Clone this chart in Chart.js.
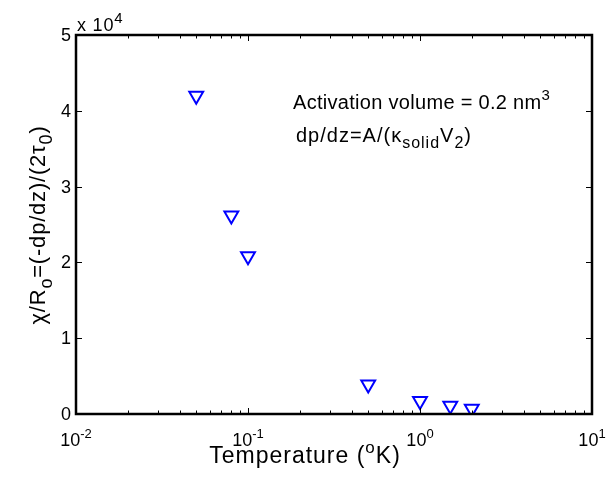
<!DOCTYPE html>
<html>
<head>
<meta charset="utf-8">
<script src="https://cdn.jsdelivr.net/npm/chart.js@4.4.0/dist/chart.umd.min.js"></script>
<style>
  html, body { margin: 0; padding: 0; background: #fff; }
  #wrap { width: 608px; height: 479px; }
</style>
</head>
<body>
<div id="wrap"><canvas id="chart"></canvas></div>
<script>
// data (y in units of 1e4)
const temperatures = [0.05, 0.08, 0.1, 0.5, 1.0, 1.5, 2.0];
const chiValues = [4.2, 2.62, 2.08, 0.39, 0.17, 0.11, 0.07];
const yScaleFactor = 1e4;
const xDecades = [-2, -1, 0, 1];
const yTicks = [0, 1, 2, 3, 4, 5];

const FONT = 'Arial, "Liberation Sans", sans-serif';

// draw text made of parts: {t, s: 'sup'|'sub'|undefined}
function drawRich(ctx, parts, x, y, size, align, opts) {
    opts = opts || {};
    const small = Math.round(size * (opts.ratio || 0.75));
    const spacing = (opts.spacing || 0) + 'px';
    let total = 0;
    ctx.letterSpacing = spacing;
    parts.forEach(p => {
        ctx.font = (p.s ? small : size) + 'px ' + FONT;
        p.w = ctx.measureText(p.t).width;
        total += p.w;
    });
    let cx = x;
    if (align === 'center') cx = x - total / 2;
    else if (align === 'right') cx = x - total;
    ctx.textAlign = 'left';
    ctx.textBaseline = 'alphabetic';
    parts.forEach(p => {
        ctx.font = (p.s ? small : size) + 'px ' + FONT;
        let dy = 0;
        if (p.s === 'sup') dy = -size * 0.45;
        if (p.s === 'sub') dy = size * 0.3;
        ctx.fillText(p.t, cx, y + dy);
        cx += p.w;
    });
    ctx.letterSpacing = '0px';
}

const matlabAxes = {
    id: 'matlabAxes',
    afterDraw(chart) {
        const ctx = chart.ctx;
        const a = chart.chartArea;
        const xs = chart.scales.x, ys = chart.scales.y;
        ctx.save();
        ctx.fillStyle = '#000';
        ctx.strokeStyle = '#000';

        // ticks (inward, on all four sides)
        ctx.lineWidth = 1;
        ctx.beginPath();
        xDecades.forEach((d, i) => {
            for (let m = 1; m <= 9; m++) {
                if (m > 1 && i === xDecades.length - 1) break;
                const px = Math.round(xs.getPixelForValue(m * Math.pow(10, d))) + 0.5;
                const len = m === 1 ? 6 : 3.5;
                ctx.moveTo(px, a.bottom); ctx.lineTo(px, a.bottom - len);
                ctx.moveTo(px, a.top); ctx.lineTo(px, a.top + len);
            }
        });
        yTicks.forEach(v => {
            const py = Math.round(ys.getPixelForValue(v * yScaleFactor)) + 0.5;
            ctx.moveTo(a.left, py); ctx.lineTo(a.left + 6, py);
            ctx.moveTo(a.right, py); ctx.lineTo(a.right - 6, py);
        });
        ctx.stroke();

        // frame
        ctx.lineWidth = 2.5;
        ctx.strokeRect(a.left, a.top, a.right - a.left, a.bottom - a.top);

        // tick labels
        xDecades.forEach(d => {
            const px = xs.getPixelForValue(Math.pow(10, d));
            drawRich(ctx, [{ t: '10' }, { t: String(d), s: 'sup' }], px, 446, 18, 'center', { ratio: 0.72 });
        });
        yTicks.forEach(v => {
            const py = ys.getPixelForValue(v * yScaleFactor);
            ctx.font = '18px ' + FONT;
            ctx.textAlign = 'right';
            ctx.textBaseline = 'middle';
            ctx.fillText(String(v), a.left - 5, py + 1);
        });
        drawRich(ctx, [{ t: 'x 10' }, { t: '4', s: 'sup' }], a.left + 1, 31, 18, 'left', { ratio: 0.85, spacing: 0.8 });

        // axis titles
        drawRich(ctx, [{ t: 'Temperature (' }, { t: 'o', s: 'sup' }, { t: 'K)' }], 305, 463, 23, 'center', { ratio: 0.72, spacing: 1 });
        ctx.save();
        ctx.translate(45, 225);
        ctx.rotate(-Math.PI / 2);
        drawRich(ctx, [
            { t: 'χ/R' }, { t: 'o', s: 'sub' }, { t: '=(-dp/dz)/(2τ' }, { t: '0', s: 'sub' }, { t: ')' }
        ], 0, 0, 22, 'center', { ratio: 0.8, spacing: 0.8 });
        ctx.restore();

        // annotations
        drawRich(ctx, [{ t: 'Activation volume = 0.2 nm' }, { t: '3', s: 'sup' }], 293, 109, 20, 'left', { ratio: 0.75, spacing: 0.3 });
        drawRich(ctx, [
            { t: 'dp/dz=A/(κ' }, { t: 'solid', s: 'sub' }, { t: 'V' }, { t: '2', s: 'sub' }, { t: ')' }
        ], 296, 142, 20, 'left', { ratio: 0.8, spacing: 1 });
        ctx.restore();
    }
};

new Chart(document.getElementById('chart'), {
    type: 'scatter',
    data: {
        datasets: [{
            data: temperatures.map((t, i) => ({ x: t, y: chiValues[i] * yScaleFactor })),
            pointStyle: 'triangle',
            rotation: 180,
            radius: 8,
            hoverRadius: 8,
            borderColor: '#0000ff',
            backgroundColor: 'rgba(0,0,0,0)',
            borderWidth: 2
        }]
    },
    options: {
        responsive: true,
        maintainAspectRatio: false,
        animation: false,
        layout: { padding: { left: 76, top: 35, right: 16, bottom: 65 } },
        plugins: { legend: { display: false }, tooltip: { enabled: false } },
        scales: {
            x: { type: 'logarithmic', min: 0.01, max: 10, display: false },
            y: { type: 'linear', min: 0, max: 5 * yScaleFactor, display: false }
        }
    },
    plugins: [matlabAxes]
});
</script>
</body>
</html>
